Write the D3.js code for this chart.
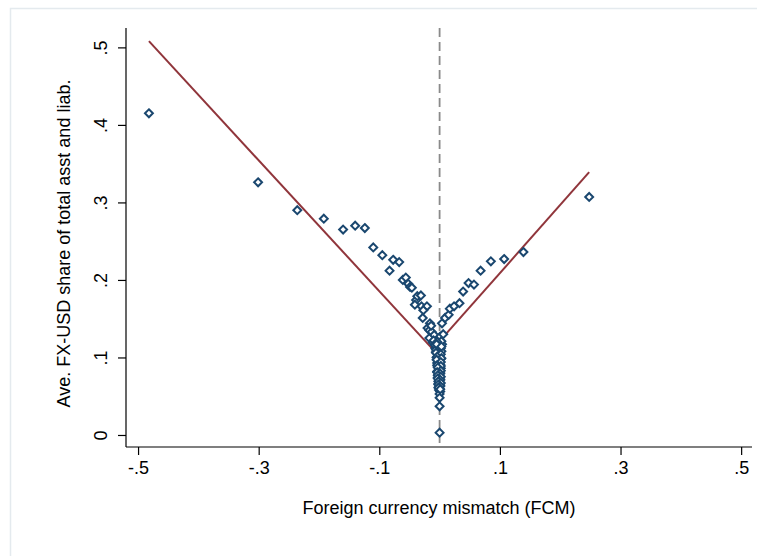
<!DOCTYPE html>
<html>
<head>
<meta charset="utf-8">
<script src="https://cdn.jsdelivr.net/npm/d3@7"></script>
<style>
  html, body { margin: 0; padding: 0; background: #fff; }
  svg { display: block; }
  text { font-family: "Liberation Sans", Arial, sans-serif; fill: #000; }
</style>
</head>
<body>
<script>
// FCM (x) vs. average FX-USD share of total assets and liabilities (y)
const fcm = [
  -0.482, -0.301, -0.236, -0.192, -0.160, -0.140, -0.124, -0.110, -0.095, -0.083,
  -0.077, -0.067, -0.061, -0.056, -0.052, -0.049, -0.046, -0.039, -0.037, -0.031,
  -0.041, -0.030, -0.021, -0.027, -0.028, -0.016, -0.020, -0.017, -0.013, -0.017,
  -0.011, -0.007, -0.006, -0.014, -0.009, -0.010, -0.008,
  0.001, 0.004, 0.004, 0.009, 0.015, 0.017, 0.024, 0.033, 0.039, 0.048,
  0.057, 0.068, 0.085, 0.107, 0.139, 0.248, 0.003, 0.006,
  -0.004, -0.002, 0.002, -0.006, 0.003, -0.003, 0.000, -0.005, 0.002, -0.002,
  -0.004, 0.001, -0.003, 0.002, -0.001, -0.004, 0.001, -0.002, 0.000, -0.003,
  0.001, -0.001, 0.000, -0.002, 0.001, -0.001, 0.000, -0.001, 0.001, 0.000,
  -0.005, 0.003, -0.006, 0.002, -0.004, 0.003, -0.005, 0.002, -0.004, 0.002,
  -0.003, 0.002, -0.004, 0.001, -0.003, 0.002, -0.003, 0.001, -0.002, 0.002,
  -0.002, 0.001, -0.002, 0.001,
  0.000, 0.000, 0.000
];
const fxShare = [
  0.415, 0.326, 0.290, 0.279, 0.265, 0.270, 0.267, 0.242, 0.232, 0.212,
  0.226, 0.223, 0.200, 0.203, 0.195, 0.191, 0.190, 0.174, 0.179, 0.180,
  0.168, 0.166, 0.166, 0.161, 0.151, 0.144, 0.138, 0.135, 0.133, 0.125,
  0.119, 0.112, 0.107, 0.141, 0.129, 0.122, 0.116,
  0.127, 0.117, 0.144, 0.151, 0.155, 0.163, 0.166, 0.170, 0.185, 0.196,
  0.194, 0.212, 0.224, 0.227, 0.236, 0.307, 0.121, 0.130,
  0.120, 0.115, 0.112, 0.110, 0.108, 0.105, 0.103, 0.100, 0.098, 0.096,
  0.093, 0.091, 0.088, 0.086, 0.084, 0.082, 0.080, 0.078, 0.076, 0.074,
  0.072, 0.070, 0.068, 0.066, 0.064, 0.062, 0.060, 0.058, 0.056, 0.053,
  0.117, 0.114, 0.106, 0.104, 0.101, 0.099, 0.097, 0.094, 0.090, 0.089,
  0.087, 0.083, 0.081, 0.079, 0.077, 0.075, 0.073, 0.071, 0.069, 0.067,
  0.065, 0.063, 0.061, 0.059,
  0.048, 0.037, 0.003
];

// Separate linear fits for negative and positive mismatch
const fitLeftX = [-0.482, 0.0];
const fitLeftY = [0.508, 0.101];
const fitRightX = [0.0, 0.248];
const fitRightY = [0.121, 0.339];

const xTicks = [-0.5, -0.3, -0.1, 0.1, 0.3, 0.5];
const xTickLabels = ["-.5", "-.3", "-.1", ".1", ".3", ".5"];
const yTicks = [0, 0.1, 0.2, 0.3, 0.4, 0.5];
const yTickLabels = ["0", ".1", ".2", ".3", ".4", ".5"];

const W = 757, H = 556;
const svg = d3.select("body").append("svg").attr("width", W).attr("height", H);

// outer frame
svg.append("rect")
  .attr("x", 10.5).attr("y", 8.5).attr("width", W).attr("height", H)
  .attr("fill", "#fff").attr("stroke", "#e4eaee").attr("stroke-width", 1.5);

const plotL = 126, plotR = 752, plotT = 28, plotB = 447;
const x = d3.scaleLinear().domain([-0.52, 0.518]).range([plotL, plotR]);
const y = d3.scaleLinear().domain([-0.0155, 0.525]).range([plotB, plotT]);

// zero reference line
svg.append("line")
  .attr("x1", x(0)).attr("x2", x(0)).attr("y1", plotT).attr("y2", plotB)
  .attr("stroke", "#8a8a8a").attr("stroke-width", 1.8)
  .attr("stroke-dasharray", "9,5");

// axes
const xAxis = d3.axisBottom(x).tickValues(xTicks)
  .tickFormat((d, i) => xTickLabels[i]).tickSize(8).tickPadding(6);
const yAxis = d3.axisLeft(y).tickValues(yTicks)
  .tickFormat((d, i) => yTickLabels[i]).tickSize(8).tickPadding(5);

const gx = svg.append("g").attr("transform", `translate(0,${plotB})`).call(xAxis);
gx.select(".domain").attr("d", `M${plotL},0H${plotR}`).attr("stroke", "#000").attr("stroke-width", 1.2);
gx.selectAll(".tick line").attr("stroke", "#000").attr("stroke-width", 1.2);
gx.selectAll(".tick text").attr("font-size", 18).attr("font-family", "Liberation Sans, Arial, sans-serif");

const gy = svg.append("g").attr("transform", `translate(${plotL},0)`).call(yAxis);
gy.select(".domain").attr("d", `M0,${plotT}V${plotB}`).attr("stroke", "#000").attr("stroke-width", 1.2);
gy.selectAll(".tick line").attr("stroke", "#000").attr("stroke-width", 1.2);
gy.selectAll(".tick text")
  .attr("font-size", 18).attr("font-family", "Liberation Sans, Arial, sans-serif")
  .attr("text-anchor", "middle").attr("x", null).attr("dy", null)
  .attr("transform", "translate(-19,0) rotate(-90)");

// fitted lines
const line = d3.line().x(d => x(d[0])).y(d => y(d[1]));
[[fitLeftX, fitLeftY], [fitRightX, fitRightY]].forEach(([xs, ys]) => {
  svg.append("path")
    .attr("d", line(xs.map((v, i) => [v, ys[i]])))
    .attr("fill", "none").attr("stroke", "#90353b").attr("stroke-width", 2);
});

// scatter: hollow diamonds
const diamond = d3.symbol().type(d3.symbolDiamond2).size(40);
svg.append("g").selectAll("path")
  .data(fcm.map((v, i) => [v, fxShare[i]]))
  .join("path")
  .attr("d", diamond)
  .attr("transform", d => `translate(${x(d[0])},${y(d[1])})`)
  .attr("fill", "#fff").attr("stroke", "#1a476f").attr("stroke-width", 2);

// axis titles
svg.append("text")
  .attr("x", (plotL + plotR) / 2).attr("y", 514)
  .attr("text-anchor", "middle").attr("font-size", 18)
  .text("Foreign currency mismatch (FCM)");

svg.append("text")
  .attr("transform", `translate(70,${(plotT + plotB) / 2 + 6}) rotate(-90)`)
  .attr("text-anchor", "middle").attr("font-size", 18)
  .text("Ave. FX-USD share of total asst and liab.");
</script>
</body>
</html>
